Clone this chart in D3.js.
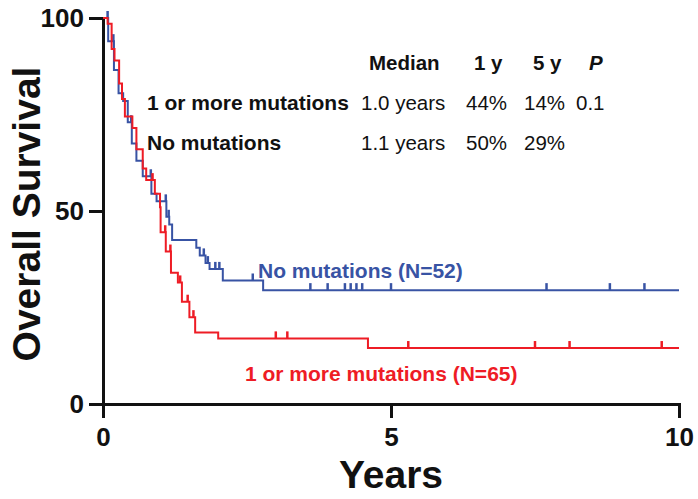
<!DOCTYPE html>
<html><head><meta charset="utf-8">
<script src="https://cdn.jsdelivr.net/npm/d3@7"></script>
<style>
html,body{margin:0;padding:0;background:#fff;}
text{font-family:"Liberation Sans",Arial,Helvetica,sans-serif;}
</style></head>
<body><svg id="c" width="698" height="499"></svg>
<script>
// ---- data ----
const groups = ["1 or more mutations", "No mutations"];
const groupN = [65, 52];
// red: 1 or more mutations (drop times in years, survival % after the drop)
const redTimes = [0.08, 0.15, 0.20, 0.28, 0.33, 0.38, 0.51, 0.58, 0.69, 0.75, 0.90, 0.99, 1.00, 1.09, 1.18, 1.30, 1.37, 1.50, 1.60, 2.00, 4.60];
const redSurv  = [98.5, 92, 89, 83, 79, 74.5, 71.5, 66, 61, 58, 54.5, 51, 44.5, 39.5, 34, 31.5, 26.5, 22.5, 18.5, 17, 14.5];
const redCensor = [0.86, 1.08, 1.17, 1.34, 1.47, 1.57, 3.0, 3.2, 5.3, 7.5, 8.1, 9.7];
// blue: no mutations
const blueTimes = [0.09, 0.19, 0.27, 0.35, 0.43, 0.50, 0.58, 0.69, 0.84, 0.93, 1.10, 1.15, 1.20, 1.62, 1.68, 1.78, 1.85, 2.08, 2.78];
const blueSurv  = [94, 86.5, 80.5, 78.5, 73, 67.5, 63, 59, 54.5, 52.5, 48.5, 46.5, 42.5, 40.5, 38.5, 36.5, 35, 32, 29.5];
const blueCensor = [0.08, 0.18, 0.49, 0.83, 1.09, 1.14, 1.75, 1.82, 1.95, 2.02, 2.6, 3.6, 3.9, 4.2, 4.3, 4.4, 4.5, 5.0, 7.7, 8.8, 9.4];
const xTicks = [0, 5, 10];
const yTicks = [0, 50, 100];
const tableHeader = ["Median", "1 y", "5 y", "P"];
const tableMedian = ["1.0 years", "1.1 years"];
const table1y = ["44%", "50%"];
const table5y = ["14%", "29%"];
const tableP = ["0.1", ""];

// ---- chart ----
const RED = "#ee1c25", BLUE = "#3853a4";
const svg = d3.select("#c");
const x = d3.scaleLinear().domain([0, 10]).range([103, 679]);
const y = d3.scaleLinear().domain([0, 100]).range([404, 18]);

function stepPoints(times, surv) {
  const pts = [[0, 100]];
  times.forEach((t, i) => pts.push([t, surv[i]]));
  pts.push([10, surv[surv.length - 1]]);
  return pts;
}
function survAt(times, surv, t) {
  let s = 100;
  times.forEach((tt, i) => { if (tt <= t) s = surv[i]; });
  return s;
}
const line = d3.line().x(d => x(d[0])).y(d => y(d[1])).curve(d3.curveStepAfter);

// axes
const yAxis = svg.append("g").attr("transform", `translate(${x(0)},0)`)
  .call(d3.axisLeft(y).tickValues(yTicks).tickSize(14).tickSizeOuter(0).tickPadding(5));
const xAxis = svg.append("g").attr("transform", `translate(0,${y(0)})`)
  .call(d3.axisBottom(x).tickValues(xTicks).tickSize(14).tickSizeOuter(0).tickPadding(10));
[yAxis, xAxis].forEach(a => {
  a.selectAll("path,line").attr("stroke", "#111").attr("stroke-width", 3);
  a.selectAll("text").attr("fill", "#111").style("font-size", "26px").style("font-weight", "bold");
});
xAxis.select(".domain").attr("stroke-linecap", "square");

// curves
const series = [
  {times: blueTimes, surv: blueSurv, cens: blueCensor, color: BLUE},
  {times: redTimes, surv: redSurv, cens: redCensor, color: RED}
];
series.forEach(s => {
  svg.append("path").attr("d", line(stepPoints(s.times, s.surv)))
    .attr("fill", "none").attr("stroke", s.color).attr("stroke-width", 2);
  svg.append("g").selectAll("line").data(s.cens).join("line")
    .attr("x1", d => x(d)).attr("x2", d => x(d))
    .attr("y1", d => y(survAt(s.times, s.surv, d)))
    .attr("y2", d => y(survAt(s.times, s.surv, d)) - 7)
    .attr("stroke", s.color).attr("stroke-width", 2.5);
});

// axis titles
svg.append("text").attr("transform", "translate(40,214) rotate(-90)")
  .attr("text-anchor", "middle").style("font-size", "39px").style("font-weight", "bold")
  .attr("fill", "#111").text("Overall Survival");
svg.append("text").attr("x", 391).attr("y", 488).attr("text-anchor", "middle")
  .style("font-size", "39px").style("font-weight", "bold").attr("fill", "#111").text("Years");

// series labels
svg.append("text").attr("x", 258).attr("y", 278).style("font-size", "21px").style("font-weight", "bold")
  .attr("fill", BLUE).text(`${groups[1]} (N=${groupN[1]})`);
svg.append("text").attr("x", 245).attr("y", 381).style("font-size", "21px").style("font-weight", "bold")
  .attr("fill", RED).text(`${groups[0]} (N=${groupN[0]})`);

// table
const hx = [369, 474, 533, 589];
const hg = svg.append("g").style("font-size", "20.5px").style("font-weight", "bold").attr("fill", "#111");
tableHeader.forEach((h, i) => hg.append("text").attr("x", hx[i]).attr("y", 70)
  .style("font-style", h === "P" ? "italic" : "normal").text(h));
const rowY = [110, 150];
const cx = [361, 466, 524, 576];
groups.forEach((g, r) => {
  svg.append("text").attr("x", 147).attr("y", rowY[r]).style("font-size", "21px").style("font-weight", "bold")
    .attr("fill", "#111").text(g);
  [tableMedian[r], table1y[r], table5y[r], tableP[r]].forEach((v, i) => {
    svg.append("text").attr("x", cx[i]).attr("y", rowY[r]).style("font-size", "20.5px").attr("fill", "#111").text(v);
  });
});
</script></body></html>
